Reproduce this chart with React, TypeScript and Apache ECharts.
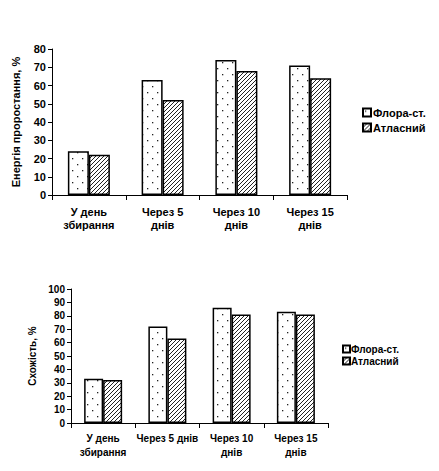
import React, { useEffect, useRef } from "react";
import * as echarts from "echarts";

const categoriesTop = ["У день\nзбирання", "Через 5\nднів", "Через 10\nднів", "Через 15\nднів"];
const categoriesBottom = ["У день\nзбирання", "Через 5 днів", "Через 10\nднів", "Через 15\nднів"];
const seriesNames = ["Флора-ст.", "Атласний"];
const energyFlora = [24, 63, 74, 71];
const energyAtlas = [22, 52, 68, 64];
const germFlora = [33, 72, 86, 83];
const germAtlas = [32, 63, 81, 81];
const yNameTop = "Енергія проростання, %";
const yNameBottom = "Схожість, %";

function makeDots() {
  const c = document.createElement("canvas");
  c.width = 10;
  c.height = 12;
  const g = c.getContext("2d")!;
  g.fillStyle = "#fff";
  g.fillRect(0, 0, 10, 12);
  g.fillStyle = "#222";
  g.fillRect(2, 2, 1.3, 1.3);
  g.fillRect(7, 8, 1.3, 1.3);
  return c;
}

function makeHatch() {
  const s = 4;
  const c = document.createElement("canvas");
  c.width = s;
  c.height = s;
  const g = c.getContext("2d")!;
  g.fillStyle = "#fff";
  g.fillRect(0, 0, s, s);
  g.strokeStyle = "#222";
  g.lineWidth = 1;
  g.beginPath();
  g.moveTo(-1, s + 1);
  g.lineTo(s + 1, -1);
  g.moveTo(-1, 1);
  g.lineTo(1, -1);
  g.moveTo(s - 1, s + 1);
  g.lineTo(s + 1, s - 1);
  g.stroke();
  return c;
}

export default function App() {
  const ref = useRef<HTMLDivElement>(null);
  useEffect(() => {
    document.body.style.margin = "0";
    const chart = echarts.init(ref.current!, null, { renderer: "svg" });
    const dots = { image: makeDots(), repeat: "repeat", imageWidth: 10, imageHeight: 12 } as any;
    const hatch = { image: makeHatch(), repeat: "repeat", imageWidth: 4, imageHeight: 4 } as any;
    const font = "Liberation Sans, Arial, sans-serif";
    const axisLine = { show: true, lineStyle: { color: "#000", width: 1 } };
    const mkX = (idx: number, data: string[], size: number, margin: number, lh: number) => ({
      type: "category",
      gridIndex: idx,
      data,
      axisLine,
      axisTick: { show: true, length: 5, lineStyle: { color: "#000" } },
      axisLabel: {
        interval: 0,
        color: "#000",
        fontWeight: "bold",
        fontFamily: font,
        fontSize: size,
        lineHeight: lh,
        margin,
      },
    });
    const mkY = (idx: number, max: number, name: string, gap: number, size: number) => ({
      type: "value",
      gridIndex: idx,
      min: 0,
      max,
      interval: 10,
      name,
      nameLocation: "middle",
      nameRotate: 90,
      nameGap: gap,
      nameTextStyle: { color: "#000", fontWeight: "bold", fontFamily: font, fontSize: size },
      splitLine: { show: false },
      axisLine,
      axisTick: { show: true, length: 4, lineStyle: { color: "#000" } },
      axisLabel: { color: "#000", fontWeight: "bold", fontFamily: font, fontSize: size, margin: 6 },
    });
    const mkBar = (name: string, idx: number, data: number[], pat: any, w: number) => ({
      type: "bar",
      name,
      xAxisIndex: idx,
      yAxisIndex: idx,
      data,
      barWidth: w,
      barGap: "0%",
      itemStyle: { color: pat, borderColor: "#000", borderWidth: 1.5 },
    });
    chart.setOption({
      animation: false,
      backgroundColor: "#fff",
      grid: [
        { left: 52, right: 92, top: 49, bottom: 276 },
        { left: 71, right: 111, top: 289, bottom: 48 },
      ],
      xAxis: [mkX(0, categoriesTop, 11, 10, 13), mkX(1, categoriesBottom, 10, 8, 14)],
      yAxis: [mkY(0, 80, yNameTop, 31, 11), mkY(1, 100, yNameBottom, 28, 10)],
      legend: [
        {
          orient: "vertical",
          left: 357,
          top: 102,
          itemWidth: 8,
          itemHeight: 8,
          itemGap: 4,
          icon: "rect",
          selectedMode: false,
          textStyle: { color: "#000", fontWeight: "bold", fontFamily: font, fontSize: 11, padding: [0, 0, 0, -3] },
          data: seriesNames,
        },
        {
          orient: "vertical",
          left: 337,
          top: 339,
          itemWidth: 7,
          itemHeight: 7,
          itemGap: 2,
          icon: "rect",
          selectedMode: false,
          textStyle: { color: "#000", fontWeight: "bold", fontFamily: font, fontSize: 10, padding: [0, 0, 0, -4] },
          data: seriesNames,
        },
      ],
      series: [
        mkBar(seriesNames[0], 0, energyFlora, dots, 21),
        mkBar(seriesNames[1], 0, energyAtlas, hatch, 21),
        mkBar(seriesNames[0], 1, germFlora, dots, 19),
        mkBar(seriesNames[1], 1, germAtlas, hatch, 19),
      ],
    });
    return () => chart.dispose();
  }, []);
  return <div ref={ref} style={{ position: "fixed", left: 0, top: 0, width: 439, height: 471 }} />;
}
